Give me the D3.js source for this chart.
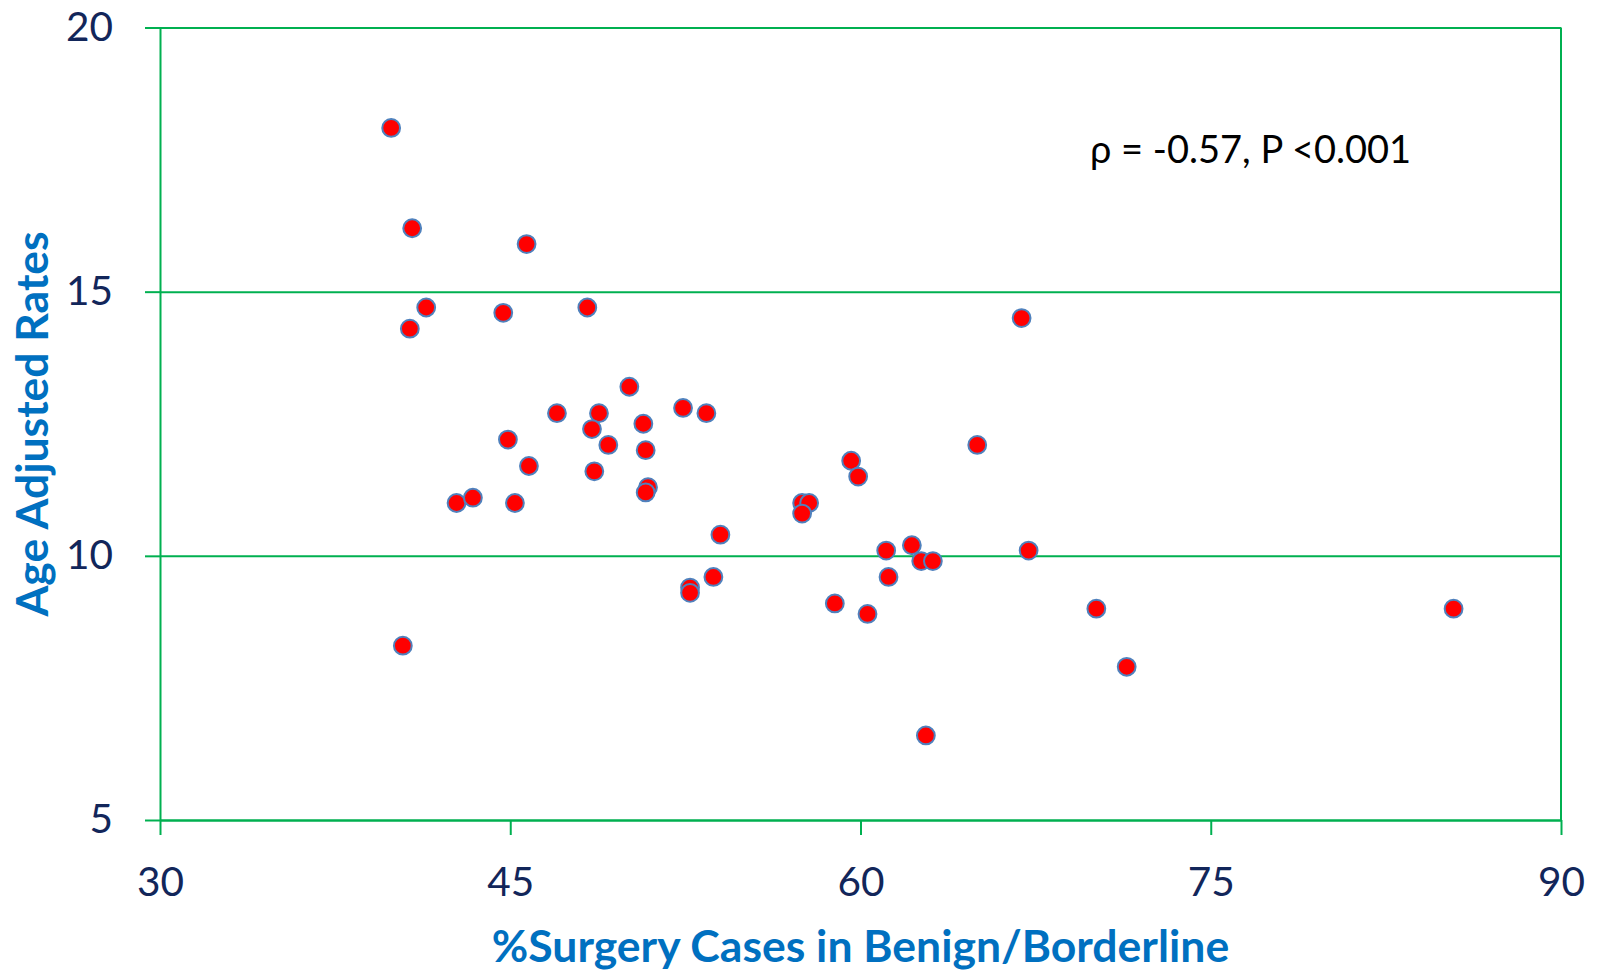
<!DOCTYPE html>
<html>
  <head>
    <script src="https://d3js.org/d3.v7.min.js" charset="utf-8"></script>
    <meta charset="UTF-8">
    <title>age adjusted rates scatter</title>
    <style>
      body { margin: 0; background: #fff; }
      .tick text { font-family: Lato, "Open Sans", sans-serif; fill: #12265a; }
    </style>
  </head>
  <body>
    <svg class="chart"></svg>
    <script type="text/javascript">

     var width = 1597,
         height = 973,
         margin = {top: 27.5, right: 36, bottom: 153, left: 160};

     var green = "#00b050";

     // % surgery cases in benign/borderline (x) and age adjusted rates (y)
     var pctSurgery = [39.9, 40.8, 45.7, 41.4, 40.7, 44.7, 48.3, 66.9,
                       50.1, 47.0, 48.8, 48.5, 52.4, 53.4, 50.7, 44.9,
                       49.2, 50.8, 65.0, 45.8, 48.6, 59.6, 59.9, 50.9,
                       50.8, 42.7, 43.4, 45.2, 57.5, 57.8, 57.5, 54.0,
                       61.1, 62.2, 67.2, 62.6, 63.1, 61.2, 53.7, 52.7,
                       52.7, 58.9, 60.3, 70.1, 85.4, 71.4, 62.8, 40.4];
     var ageRates = [18.1, 16.2, 15.9, 14.7, 14.3, 14.6, 14.7, 14.5,
                     13.2, 12.7, 12.7, 12.4, 12.8, 12.7, 12.5, 12.2,
                     12.1, 12.0, 12.1, 11.7, 11.6, 11.8, 11.5, 11.3,
                     11.2, 11.0, 11.1, 11.0, 11.0, 11.0, 10.8, 10.4,
                     10.1, 10.2, 10.1, 9.9, 9.9, 9.6, 9.6, 9.4,
                     9.3, 9.1, 8.9, 9.0, 9.0, 7.9, 6.6, 8.3];

     var xTicks = [30, 45, 60, 75, 90];
     var yTicks = [5, 10, 15, 20];

     var xTitle = "%Surgery Cases in Benign/Borderline";
     var yTitle = "Age Adjusted Rates";
     var note = "\u03c1 = -0.57, P <0.001";

     var points = pctSurgery.map(function(v, i) { return {x: v, y: ageRates[i]}; });

     var w = width - margin.left - margin.right,
         h = height - margin.top - margin.bottom;

     var x = d3.scaleLinear().domain([30, 90]).range([0, w]);
     var y = d3.scaleLinear().domain([5, 20]).range([h, 0]);

     var chart = d3.select(".chart")
                   .attr("width", width)
                   .attr("height", height);

     var g = chart.append("g")
                  .attr("transform", "translate(" + margin.left + "," + margin.top + ")");

     // horizontal gridlines
     g.append("g")
      .attr("class", "grid")
      .call(d3.axisLeft(y).tickValues(yTicks).tickSize(-w).tickFormat(""))
      .call(function(s) { s.select(".domain").remove(); })
      .selectAll("line").attr("stroke", green).attr("stroke-width", 2);

     // right border
     g.append("line")
      .attr("x1", x(90)).attr("x2", x(90))
      .attr("y1", 0).attr("y2", h)
      .attr("stroke", green).attr("stroke-width", 2);

     var yAxis = g.append("g")
                  .call(d3.axisLeft(y).tickValues(yTicks).tickSize(15).tickSizeOuter(0).tickPadding(32));

     var xAxis = g.append("g")
                  .attr("transform", "translate(0," + h + ")")
                  .call(d3.axisBottom(x).tickValues(xTicks).tickSize(15).tickSizeOuter(0).tickPadding(32));

     [yAxis, xAxis].forEach(function(a) {
         a.select(".domain").attr("stroke", green).attr("stroke-width", 2);
         a.selectAll(".tick line").attr("stroke", green).attr("stroke-width", 2);
         a.selectAll(".tick text").attr("font-size", 40.5);
     });

     g.append("g")
      .selectAll("circle")
      .data(points)
      .enter().append("circle")
      .attr("cx", function(d) { return x(d.x); })
      .attr("cy", function(d) { return y(d.y); })
      .attr("r", 8.9)
      .attr("fill", "#ff0000")
      .attr("stroke", "#4f81bd")
      .attr("stroke-width", 2);

     chart.append("text")
          .attr("x", 1090)
          .attr("y", 163)
          .attr("font-family", "Lato, 'Open Sans', sans-serif")
          .attr("font-size", 38)
          .attr("fill", "#000")
          .text(note);

     chart.append("text")
          .attr("x", margin.left + w / 2)
          .attr("y", 962)
          .attr("text-anchor", "middle")
          .attr("font-family", "Lato, 'Open Sans', sans-serif")
          .attr("font-weight", "bold")
          .attr("font-size", 44.5)
          .attr("fill", "#0070c0")
          .text(xTitle);

     chart.append("text")
          .attr("transform", "translate(48,424) rotate(-90)")
          .attr("text-anchor", "middle")
          .attr("font-family", "Lato, 'Open Sans', sans-serif")
          .attr("font-weight", "bold")
          .attr("font-size", 44.5)
          .attr("fill", "#0070c0")
          .text(yTitle);

    </script>
  </body>
</html>
